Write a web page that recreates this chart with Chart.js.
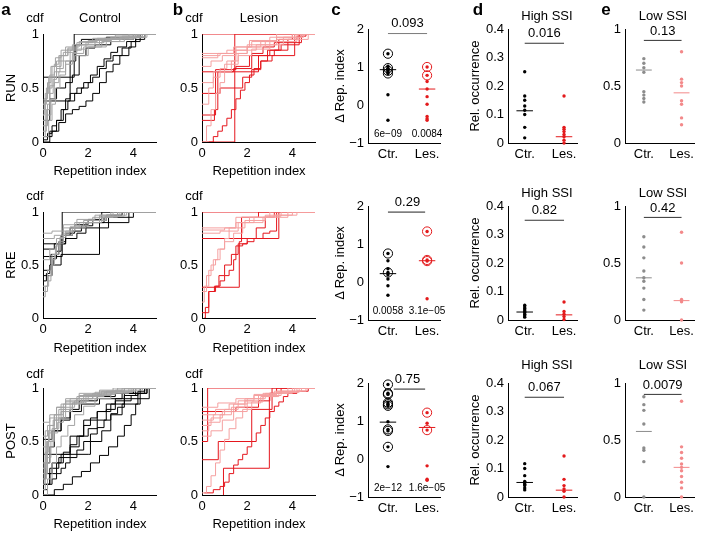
<!DOCTYPE html>
<html lang="en">
<head>
  <meta charset="UTF-8" />
  <title>Repetition index, control vs lesion</title>
  <script src="https://cdn.jsdelivr.net/npm/chart.js"></script>
  <style>
    body { margin: 0; background: #fff; font-family: 'Liberation Sans', Arial, sans-serif; }
    #fig { position: relative; width: 702px; height: 533px; overflow: hidden; background: #fff; }
    #fig canvas { position: absolute; }
    .lbl { position: absolute; font-size: 13px; line-height: 1; color: #000; white-space: nowrap; transform: translate(-50%, -50%); }
    .letter { font-weight: bold; font-size: 17px; }
    .rot { transform: translate(-50%, -50%) rotate(-90deg); }
  </style>
</head>
<body>
<div id="fig"></div>

<script>
  // ---- ticks / categories ----
  const cdfXTicks = [0, 2, 4];
  const cdfYTicks = [0, 0.5, 1];
  const deltaYTicks = [-1, 0, 1, 2];
  const highYTicks = [0, 0.1, 0.2, 0.3, 0.4];
  const lowYTicks = [0, 0.5, 1];
  const groups = ['Ctr.', 'Les.'];
  const epochs = ['RUN', 'RRE', 'POST'];
  const X_MAX = 5;

  // ---- cdf curves, [repetition index, cdf] at each step ----
  const runCtrGray = [
    [[0,0.05],[0.1,0.2],[0.2,0.35],[0.3,0.5],[0.4,0.6],[0.6,0.7],[0.8,0.8],[1.1,0.87],[1.5,0.92],[2.2,0.96],[3.2,0.99],[4.3,1]],
    [[0,0.1],[0.15,0.3],[0.3,0.45],[0.45,0.58],[0.6,0.68],[0.9,0.75],[1.2,0.85],[1.7,0.9],[2.5,0.95],[3.5,0.98],[4.4,1]],
    [[0,0.3],[0.1,0.45],[0.25,0.6],[0.4,0.7],[0.55,0.78],[0.8,0.85],[1.3,0.9],[2,0.94],[3,0.97],[4.2,1]],
    [[0,0.15],[0.2,0.25],[0.35,0.4],[0.5,0.55],[0.7,0.65],[1.0,0.75],[1.4,0.8],[2.0,0.88],[2.8,0.93],[3.6,0.97],[4.5,1]],
    [[0,0.2],[0.1,0.38],[0.3,0.52],[0.5,0.65],[0.75,0.8],[1.0,0.88],[1.6,0.93],[2.4,0.96],[3.8,1]],
    [[0,0.05],[0.25,0.2],[0.4,0.35],[0.55,0.5],[0.75,0.62],[1.0,0.72],[1.3,0.82],[1.8,0.88],[2.6,0.93],[3.4,0.97],[4.6,1]],
    [[0,0.25],[0.05,0.4],[0.2,0.55],[0.35,0.7],[0.6,0.75],[0.9,0.83],[1.5,0.9],[2.3,0.95],[4,1]],
    [[0,0.35],[0.15,0.5],[0.3,0.62],[0.5,0.72],[0.7,0.8],[1.1,0.86],[1.9,0.92],[2.7,0.96],[4.1,1]]
  ];
  const runCtrBlack = [
    [[0,0.6],[1.38,1]],
    [[0,0.38],[1.2,0.75],[1.45,0.9],[1.7,0.95],[2.8,0.97],[4.2,1]],
    [[0,0.02],[0.2,0.08],[0.4,0.15],[0.6,0.2],[0.8,0.3],[1.0,0.4],[1.2,0.45],[1.5,0.5],[1.8,0.55],[2.1,0.62],[2.4,0.7],[2.7,0.77],[3.0,0.83],[3.3,0.88],[3.7,0.93],[4.1,0.97],[4.5,1]],
    [[0,0],[0.3,0.1],[0.6,0.2],[0.9,0.3],[1.1,0.38],[1.4,0.45],[1.7,0.5],[2.0,0.55],[2.2,0.6],[2.5,0.68],[2.8,0.75],[3.1,0.8],[3.5,0.87],[3.9,0.93],[4.3,1]],
    [[0,0.05],[0.4,0.1],[0.7,0.18],[1.0,0.26],[1.3,0.3],[1.6,0.33],[1.9,0.38],[2.2,0.45],[2.5,0.55],[2.8,0.65],[3.1,0.72],[3.4,0.8],[3.8,0.88],[4.1,0.95],[4.5,1]],
    [[0,0.2],[0.3,0.4],[0.6,0.5],[1.0,0.55],[1.3,0.62],[1.6,0.8],[1.9,0.87],[2.3,0.9],[3.0,0.95],[4.0,1]]
  ];
  const runLesDark = [
    [[0,1]],
    [[0,0],[1.45,1]],
    [[0.3,0],[0.5,0.05],[0.7,0.1],[0.9,0.15],[1.1,0.22],[1.3,0.3],[1.5,0.4],[1.7,0.48],[1.9,0.55],[2.1,0.62],[2.3,0.68],[2.6,0.75],[2.9,0.8],[3.2,0.85],[3.5,0.9],[3.8,0.95],[4.2,0.98],[4.6,1]],
    [[0,0.25],[0.6,0.67],[1.2,0.67],[1.5,0.7],[2.1,0.8],[2.9,0.85],[3.4,0.95],[4.0,1]],
    [[0,0.2],[0.55,0.3],[0.7,0.65],[1.4,0.65],[2.5,0.8],[3.0,0.85],[3.8,0.9],[4.3,1]],
    [[0,0.65],[1.4,0.68],[2.2,0.82],[2.7,0.88],[3.2,0.92],[4.4,1]],
    [[0,0.45],[0.8,0.5],[1.5,0.5],[1.8,0.6],[2.2,0.67],[2.6,0.75],[3.1,0.8],[4.1,1]]
  ];
  const runLesLight = [
    [[0,0],[0.2,0.15],[0.4,0.3],[0.6,0.45],[0.8,0.55],[1.0,0.65],[1.3,0.75],[1.6,0.82],[2.0,0.88],[2.6,0.93],[3.3,0.97],[4.4,1]],
    [[0,0.35],[0.3,0.5],[0.5,0.6],[0.8,0.68],[1.1,0.75],[1.5,0.82],[2.0,0.88],[2.8,0.93],[3.6,0.97],[4.5,1]],
    [[0,0.7],[0.4,0.75],[0.9,0.8],[1.5,0.88],[2.2,0.93],[3.0,0.97],[4.0,1]],
    [[0,0.55],[0.5,0.65],[1.0,0.72],[1.6,0.8],[2.2,0.86],[3.0,0.93],[4.2,1]],
    [[0,0.78],[0.7,0.82],[1.4,0.88],[2.1,0.94],[3.3,1]],
    [[0,0.82],[1.1,0.85],[2.0,0.9],[3.6,0.95],[4.7,1]],
    [[0,0.8],[0.8,0.82],[1.5,0.85],[2.4,0.9],[3.3,0.95],[4.1,1]]
  ];

  const rreCtrGray = [
    [[0,0.2],[0.1,0.3],[0.25,0.4],[0.4,0.55],[0.55,0.68],[0.75,0.76],[1.0,0.82],[1.4,0.87],[2.0,0.92],[2.8,0.96],[3.6,1]],
    [[0,0.8],[0.4,0.82],[0.9,0.88],[1.5,0.93],[2.3,0.97],[3.0,1]],
    [[0,0.3],[0.2,0.45],[0.4,0.6],[0.6,0.7],[0.9,0.78],[1.3,0.85],[1.9,0.9],[2.5,0.96],[3.4,1]],
    [[0,0.75],[0.5,0.78],[0.9,0.85],[1.6,0.9],[2.6,0.95],[3.3,1]],
    [[0,0.55],[0.3,0.65],[0.6,0.75],[0.9,0.82],[1.4,0.9],[2.2,0.95],[3.1,1]],
    [[0,0.25],[0.2,0.35],[0.35,0.5],[0.5,0.6],[0.7,0.72],[0.9,0.8],[1.2,0.86],[1.8,0.92],[2.5,0.97],[3.7,1]]
  ];
  const rreCtrBlack = [
    [[0,0.58],[0.85,1]],
    [[0,0.7],[0.8,0.78],[1.2,0.85],[2.5,0.9],[3.8,1]],
    [[0,0.35],[0.15,0.42],[0.3,0.5],[0.45,0.56],[0.6,0.63],[0.8,0.7],[1.0,0.78],[1.3,0.82],[1.7,0.87],[2.2,0.92],[2.8,0.97],[3.5,1]],
    [[0,0.4],[0.4,0.5],[0.8,0.6],[2.5,0.85],[2.9,0.95],[3.3,1]],
    [[0,0.65],[0.5,0.7],[1.0,0.75],[1.5,0.8],[1.9,0.9],[2.7,0.95],[4.0,1]],
    [[0,0.45],[0.35,0.6],[0.7,0.72],[1.0,0.8],[1.4,0.88],[2.0,0.93],[2.6,1]]
  ];
  const rreLesDark = [
    [[0,1]],
    [[0,0.29],[1.65,0.72],[1.75,0.95],[2.5,1]],
    [[0,0.75],[3.4,1]],
    [[0.1,0],[0.15,0.1],[0.3,0.25],[0.6,0.3],[0.8,0.35],[1.0,0.4],[1.2,0.45],[1.4,0.55],[1.5,0.68],[1.8,0.7],[2.0,0.72],[2.3,0.75],[2.7,0.8],[3.0,0.82],[3.3,1]],
    [[0,0.05],[0.3,0.25],[0.55,0.3],[0.75,0.4],[1.0,0.5],[1.3,0.6],[1.6,0.7],[2.0,0.75],[2.4,0.85],[2.8,0.95],[3.2,1]]
  ];
  const rreLesLight = [
    [[0,0.25],[0.2,0.4],[0.4,0.5],[0.6,0.55],[0.8,0.65],[1.0,0.75],[1.2,0.85],[1.5,0.9],[2.1,0.95],[2.8,0.97],[4.0,1]],
    [[0,0.15],[0.1,0.3],[0.3,0.45],[0.5,0.55],[0.7,0.65],[1.0,0.72],[1.4,0.8],[1.8,0.9],[2.3,0.95],[3.2,0.97],[4.2,1]],
    [[0,0.85],[1.4,0.85],[1.5,0.95],[3.0,1]],
    [[0,0.83],[1.0,0.85],[1.9,0.92],[2.8,0.96],[3.5,1]],
    [[0,0.8],[0.8,0.82],[1.6,0.9],[2.7,0.95],[3.8,1]]
  ];

  const postCtrGray = [
    [[0,0.1],[0.05,0.3],[0.15,0.5],[0.3,0.65],[0.5,0.75],[0.8,0.85],[1.2,0.9],[1.8,0.94],[2.6,0.97],[3.6,1]],
    [[0,0.05],[0.1,0.2],[0.2,0.35],[0.35,0.5],[0.5,0.62],[0.7,0.72],[1.0,0.82],[1.4,0.88],[2.0,0.93],[2.8,0.97],[4.0,1]],
    [[0,0.2],[0.1,0.4],[0.25,0.58],[0.45,0.7],[0.7,0.8],[1.0,0.87],[1.5,0.92],[2.3,0.96],[3.3,1]],
    [[0,0.15],[0.15,0.3],[0.3,0.45],[0.45,0.58],[0.65,0.68],[0.9,0.78],[1.3,0.86],[1.9,0.92],[2.7,0.96],[3.9,1]],
    [[0,0.45],[0.1,0.6],[0.3,0.72],[0.6,0.82],[1.0,0.9],[1.6,0.95],[2.5,0.98],[3.5,1]],
    [[0,0.3],[0.2,0.5],[0.4,0.62],[0.6,0.72],[0.9,0.8],[1.3,0.86],[1.8,0.9],[2.4,0.94],[3.2,0.98],[4.4,1]],
    [[0,0.68],[0.3,0.75],[0.6,0.82],[1.0,0.88],[1.6,0.93],[2.5,0.97],[3.6,1]],
    [[0,0],[0.2,0.15],[0.4,0.3],[0.6,0.45],[0.8,0.55],[1.1,0.65],[1.4,0.75],[1.8,0.83],[2.3,0.9],[3.0,0.95],[3.8,1]],
    [[0,0.25],[0.1,0.45],[0.25,0.6],[0.5,0.7],[0.8,0.78],[1.2,0.85],[1.7,0.9],[2.2,0.93],[3.0,0.97],[4.1,1]],
    [[0,0.55],[0.2,0.65],[0.5,0.75],[0.9,0.85],[1.5,0.9],[2.2,0.95],[3.1,1]]
  ];
  const postCtrBlack = [
    [[0,0.38],[2.0,0.38],[2.1,0.5],[2.6,0.6],[3.0,0.75],[3.5,0.85],[4.2,0.95],[4.6,1]],
    [[0,0.52],[0.4,0.6],[0.8,0.7],[1.2,0.78],[1.7,0.85],[2.5,0.9],[3.5,0.95],[4.5,1]],
    [[0,0.05],[0.2,0.1],[0.4,0.15],[0.6,0.2],[0.8,0.25],[1.0,0.3],[1.2,0.35],[1.5,0.42],[1.8,0.5],[2.1,0.57],[2.4,0.63],[2.7,0.7],[3.0,0.76],[3.3,0.82],[3.6,0.88],[3.9,0.93],[4.2,0.97],[4.5,1]],
    [[0,0.1],[0.3,0.2],[0.6,0.3],[0.9,0.4],[1.2,0.47],[1.5,0.55],[1.8,0.65],[2.1,0.72],[2.4,0.78],[2.8,0.85],[3.2,0.9],[3.6,0.95],[4.0,1]],
    [[0,0],[0.5,0.05],[0.9,0.1],[1.3,0.17],[1.7,0.22],[2.1,0.3],[2.5,0.37],[2.9,0.45],[3.3,0.55],[3.6,0.65],[3.9,0.75],[4.1,0.85],[4.3,0.95],[4.6,1]],
    [[0,0.15],[0.1,0.3],[0.3,0.45],[0.5,0.6],[0.8,0.72],[1.2,0.8],[1.6,0.88],[2.4,0.92],[3.2,0.95],[4.3,1]],
    [[0,0.2],[0.4,0.3],[0.8,0.38],[1.2,0.45],[1.6,0.55],[2.0,0.62],[2.4,0.7],[2.8,0.8],[3.2,0.88],[3.6,0.93],[4.1,1]],
    [[0,0.1],[0.3,0.25],[0.7,0.35],[1.2,0.55],[1.8,0.7],[2.4,0.78],[3.0,0.85],[3.6,0.9],[4.7,1]]
  ];
  const postLesDark = [
    [[0,0.5],[0.25,1]],
    [[0,0.33],[0.72,0.5],[2.2,0.8],[3.1,1]],
    [[0.95,0],[0.95,0.25],[2.98,0.95],[3.3,1]],
    [[0.1,0.02],[0.5,0.05],[0.8,0.08],[1.0,0.12],[1.2,0.2],[1.4,0.28],[1.6,0.33],[1.8,0.38],[2.0,0.45],[2.2,0.5],[2.4,0.58],[2.6,0.65],[2.8,0.72],[3.0,0.78],[3.2,0.83],[3.4,0.87],[3.6,0.92],[3.8,0.95],[4.2,0.97],[4.7,1]],
    [[0,0.78],[1.5,0.82],[2.5,0.88],[3.0,0.95],[3.5,1]]
  ];
  const postLesLight = [
    [[0,0.02],[0.2,0.08],[0.4,0.18],[0.6,0.3],[0.8,0.42],[1.0,0.52],[1.2,0.62],[1.5,0.72],[1.8,0.8],[2.2,0.87],[2.7,0.92],[3.3,0.96],[4.2,1]],
    [[0,0.7],[0.5,0.75],[1.0,0.8],[1.6,0.88],[2.3,0.93],[3.2,0.97],[4.4,1]],
    [[0,0.65],[0.4,0.72],[0.9,0.78],[1.4,0.85],[2.0,0.9],[2.8,0.95],[3.8,1]],
    [[0,0.75],[0.6,0.8],[1.2,0.85],[1.9,0.9],[2.7,0.95],[4.0,1]],
    [[0,0.6],[0.3,0.68],[0.8,0.75],[1.3,0.82],[1.9,0.88],[2.5,0.93],[3.5,0.97],[4.6,1]],
    [[0,0.82],[0.7,0.86],[1.5,0.9],[2.3,0.94],[3.3,0.97],[4.1,1]],
    [[0,0.55],[0.4,0.6],[0.9,0.7],[1.4,0.78],[2.0,0.86],[2.6,0.92],[3.4,0.96],[4.3,1]]
  ];

  // ---- panel c: change of repetition index ----
  const deltaCtr = [
    [1.35, 1.02, 0.97, 0.93, 0.9, 0.87, 0.83, 0.27, -0.4],
    [0.75, 0.56, 0.35, 0.25, 0.19, 0.08, -0.1, -0.35],
    [1.96, 1.73, 1.7, 1.48, 1.44, 1.4, 0.98, 0.78, 0.74, 0.32, -0.2]
  ];
  const deltaCtrCircled = [
    [1.35, 0.97, 0.9, 0.83],
    [0.75, 0.25],
    [1.96, 1.73, 1.7, 1.48, 1.44, 1.4, 0.78, 0.74, 0.32]
  ];
  const deltaLes = [
    [1.0, 0.78, 0.62, 0.42, 0.22, 0.02, -0.3, -0.36, -0.4],
    [1.33, 0.58, 0.55, -0.44],
    [1.22, 0.94, 0.76, -0.18, -0.53, -0.56]
  ];
  const deltaLesCircled = [
    [1.0, 0.78],
    [1.33, 0.58, 0.55],
    [1.22, 0.76]
  ];
  const deltaMed = [[0.93, 0.42], [0.22, 0.56], [0.97, 0.83]];
  const deltaP = [['6e\u221209', '0.0084'], ['0.0058', '3.1e\u221205'], ['2e\u221212', '1.6e\u221205']];
  const deltaSig = ['0.093', '0.29', '0.75'];
  const deltaSigY = [1.88, 1.84, 1.84];
  const deltaSigX = [[1, 2], [1, 1.95], [1.15, 1.95]];

  // ---- panel d: high SSI ----
  const highCtr = [
    [0.25, 0.165, 0.15, 0.13, 0.115, 0.1, 0.055, 0.018],
    [0.052, 0.046, 0.04, 0.035, 0.03, 0.026, 0.02, 0.015, 0.01],
    [0.117, 0.1, 0.075, 0.055, 0.05, 0.045, 0.04, 0.032, 0.025]
  ];
  const highLes = [
    [0.165, 0.055, 0.048, 0.04, 0.03, 0.022, 0.01, 0],
    [0.063, 0.03, 0.02, 0.012, 0.002],
    [0.144, 0.062, 0.04, 0.028, 0.02, 0]
  ];
  const highMed = [[0.113, 0.022], [0.028, 0.018], [0.051, 0.024]];
  const highSig = ['0.016', '0.82', '0.067'];
  const highSigY = [0.35, 0.35, 0.35];

  // ---- panel e: low SSI ----
  const lowCtr = [
    [0.74, 0.7, 0.66, 0.62, 0.45, 0.42, 0.39, 0.36],
    [0.73, 0.64, 0.545, 0.43, 0.37, 0.34, 0.28, 0.18, 0.087],
    [0.88, 0.81, 0.76, 0.64, 0.43, 0.41, 0.31, 0]
  ];
  const lowLes = [
    [0.8, 0.56, 0.53, 0.5, 0.37, 0.34, 0.22, 0.16],
    [0.77, 0.5, 0.18, 0.16, 0],
    [0.84, 0.44, 0.39, 0.34, 0.29, 0.26, 0.23, 0.18, 0.13, 0.08, 0]
  ];
  const lowMed = [[0.64, 0.44], [0.37, 0.17], [0.575, 0.26]];
  const lowSig = ['0.13', '0.42', '0.0079'];
  const lowSigY = [0.9, 0.9, 0.9];

  // ---- layout (plot areas in page pixels) ----
  const cdfRows = [[34, 142], [212, 318], [388, 495]];
  const statRows = [[29, 143], [206, 320], [383, 497]];
  const cols = { a: [43, 156], b: [202, 315], c: [368, 440], d: [508, 577], e: [625, 694] };

  const PAD_L = 42, PAD_T = 26, PAD_R = 8, PAD_B = 24;
  const FONT = "'Liberation Sans', Arial, sans-serif";
  const GRAY = '#a3a3a3', BLACK = '#000';
  const RED = '#e5161d', RED_LIGHT = '#f5a0a0', RED_DOT = '#e31a1c';
  const DOT_GRAY = '#8c8c8c', DOT_PINK = '#f3898a';
  const MED_HW = 0.21;

  Chart.defaults.font.family = FONT;
  Chart.defaults.font.size = 13;
  Chart.defaults.color = '#000';

  const fig = document.getElementById('fig');

  function notesPlugin(notes) {
    return {
      id: 'notes',
      afterDatasetsDraw(chart) {
        const ctx = chart.ctx, xs = chart.scales.x, ys = chart.scales.y;
        ctx.save();
        notes.forEach(n => {
          ctx.font = n.size + 'px ' + FONT;
          ctx.fillStyle = '#000';
          ctx.textAlign = 'center';
          ctx.textBaseline = 'middle';
          ctx.fillText(n.text, xs.getPixelForValue(n.x), ys.getPixelForValue(n.y) + (n.dy || 0));
        });
        ctx.restore();
      }
    };
  }

  function axis(min, max, ticks, fmt, fit) {
    return {
      type: 'linear', min: min, max: max,
      afterBuildTicks: s => { s.ticks = ticks.map(v => ({ value: v })); },
      afterFit: fit,
      grid: { display: false, drawTicks: false },
      border: { display: true, color: '#000', width: 1 },
      ticks: { padding: 4, color: '#000', font: { size: 13 }, callback: fmt }
    };
  }

  function addChart(xr, yr, datasets, xScale, yScale, notes) {
    const cv = document.createElement('canvas');
    const w = xr[1] - xr[0] + PAD_L + PAD_R, h = yr[1] - yr[0] + PAD_T + PAD_B;
    cv.width = w; cv.height = h;
    cv.style.left = (xr[0] - PAD_L) + 'px';
    cv.style.top = (yr[0] - PAD_T) + 'px';
    cv.style.width = w + 'px';
    cv.style.height = h + 'px';
    fig.appendChild(cv);
    new Chart(cv, {
      type: 'scatter',
      data: { datasets: datasets },
      options: {
        responsive: false,
        animation: false,
        events: [],
        layout: { padding: { left: 0, top: PAD_T, right: PAD_R, bottom: 0 } },
        plugins: { legend: { display: false }, tooltip: { enabled: false } },
        scales: { x: xScale, y: yScale }
      },
      plugins: [notesPlugin(notes || [])]
    });
  }

  const fmtNum = v => String(v).replace('-', '\u2212');
  const fitX = s => { s.height = PAD_B; };
  const fitY = s => { s.width = PAD_L; };

  function cdfSets(curves, color) {
    return curves.map(c => ({
      data: c.concat([[X_MAX, 1]]).map(p => ({ x: p[0], y: p[1] })),
      showLine: true, stepped: true, borderColor: color, borderWidth: 1, pointRadius: 0
    }));
  }

  function cdfPanel(col, row, lower, upper, lowerColor, upperColor) {
    addChart(cols[col], cdfRows[row],
      cdfSets(lower, lowerColor).concat(cdfSets(upper, upperColor)),
      axis(0, X_MAX, cdfXTicks, fmtNum, fitX),
      axis(0, 1, cdfYTicks, fmtNum, fitY));
  }

  function dots(vals, gx, color, r) {
    return { data: vals.map(v => ({ x: gx, y: v })), showLine: false, pointRadius: r || 1.7,
      pointBackgroundColor: color, pointBorderWidth: 0, clip: false };
  }
  function rings(vals, gx, color) {
    return { data: vals.map(v => ({ x: gx, y: v })), showLine: false, pointRadius: 4.6,
      pointBackgroundColor: 'rgba(0,0,0,0)', pointBorderColor: color, pointBorderWidth: 1, clip: false };
  }
  function segment(x0, x1, y, color) {
    return { data: [{ x: x0, y: y }, { x: x1, y: y }], showLine: true, borderColor: color,
      borderWidth: 1, pointRadius: 0 };
  }

  function statPanel(col, row, yMin, yMax, yTicks, sets, notes, xMin) {
    addChart(cols[col], statRows[row], sets,
      axis(xMin, 2.33, [1, 2], v => groups[v - 1], fitX),
      axis(yMin, yMax, yTicks, fmtNum, fitY), notes);
  }

  const cdfData = [
    [runCtrGray, runCtrBlack, runLesLight, runLesDark],
    [rreCtrGray, rreCtrBlack, rreLesLight, rreLesDark],
    [postCtrGray, postCtrBlack, postLesLight, postLesDark]
  ];

  for (let r = 0; r < 3; r++) {
    cdfPanel('a', r, cdfData[r][0], cdfData[r][1], GRAY, BLACK);
    cdfPanel('b', r, cdfData[r][2], cdfData[r][3], RED_LIGHT, RED);

    // c
    statPanel('c', r, -1, 2, deltaYTicks, [
      dots(deltaCtr[r], 1, BLACK), rings(deltaCtrCircled[r], 1, BLACK),
      dots(deltaLes[r], 2, RED_DOT), rings(deltaLesCircled[r], 2, RED_DOT),
      segment(1 - MED_HW, 1 + MED_HW, deltaMed[r][0], BLACK),
      segment(2 - MED_HW, 2 + MED_HW, deltaMed[r][1], RED_DOT),
      segment(deltaSigX[r][0], deltaSigX[r][1], deltaSigY[r], r === 0 ? '#7a7a7a' : '#222')
    ], [
      { text: deltaSig[r], x: 1.5, y: deltaSigY[r], dy: -10, size: 13 },
      { text: deltaP[r][0], x: 1, y: -0.78, size: 10 },
      { text: deltaP[r][1], x: 2, y: -0.78, size: 10 }
    ], 0.49);

    // d
    statPanel('d', r, 0, 0.4, highYTicks, [
      dots(highCtr[r], 1, BLACK), dots(highLes[r], 2, RED_DOT),
      segment(1 - MED_HW, 1 + MED_HW, highMed[r][0], BLACK),
      segment(2 - MED_HW, 2 + MED_HW, highMed[r][1], RED_DOT),
      segment(1, 2, highSigY[r], '#333')
    ], [{ text: highSig[r], x: 1.5, y: highSigY[r], dy: -10, size: 13 }], 0.575);

    // e
    statPanel('e', r, 0, 1, lowYTicks, [
      dots(lowCtr[r], 1, DOT_GRAY), dots(lowLes[r], 2, DOT_PINK),
      segment(1 - MED_HW, 1 + MED_HW, lowMed[r][0], DOT_GRAY),
      segment(2 - MED_HW, 2 + MED_HW, lowMed[r][1], DOT_PINK),
      segment(1, 2, lowSigY[r], '#333')
    ], [{ text: lowSig[r], x: 1.5, y: lowSigY[r], dy: -9, size: 13 }], 0.5);
  }

  // ---- text labels ----
  function label(text, x, y, cls) {
    const d = document.createElement('div');
    d.className = 'lbl' + (cls ? ' ' + cls : '');
    d.textContent = text;
    d.style.left = x + 'px';
    d.style.top = y + 'px';
    fig.appendChild(d);
  }

  [['a', 6], ['b', 178], ['c', 336], ['d', 478], ['e', 606]].forEach(p => label(p[0], p[1], 9, 'letter'));
  label('Control', 100, 17);
  label('Lesion', 259, 17);

  const cdfLabelY = [17, 195, 373];
  const xLabelY = [170, 347, 523];
  const rowCenter = [88, 265, 441];
  const titleY = [15, 192, 364];
  for (let r = 0; r < 3; r++) {
    label('cdf', 35, cdfLabelY[r]);
    label('cdf', 194, cdfLabelY[r]);
    label('Repetition index', 100, xLabelY[r]);
    label('Repetition index', 259, xLabelY[r]);
    label(epochs[r], 10, rowCenter[r], 'rot');
    label('\u0394 Rep. index', 339, (statRows[r][0] + statRows[r][1]) / 2, 'rot');
    label('Rel. occurrence', 474, (statRows[r][0] + statRows[r][1]) / 2, 'rot');
    label('High SSI', 547, titleY[r]);
    label('Low SSI', 663, titleY[r]);
  }
</script>
</body>
</html>
